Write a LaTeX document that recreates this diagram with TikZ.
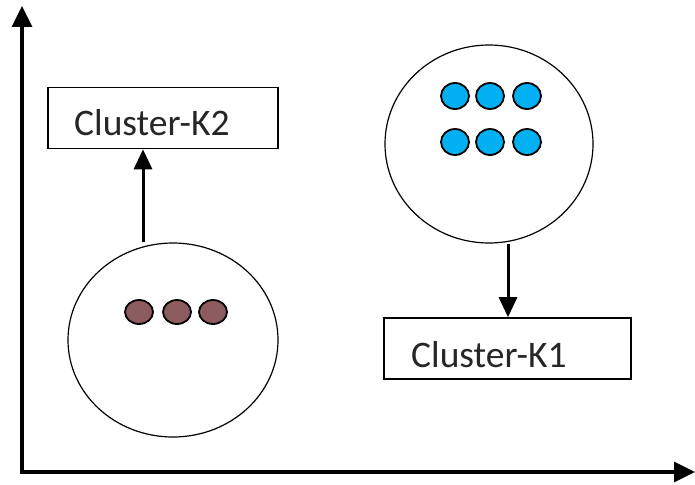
\documentclass[tikz,border=0pt]{standalone}
\usepackage{fontspec}
\setmainfont{Carlito}
\usetikzlibrary{arrows.meta,shapes.geometric}
\definecolor{dotblue}{HTML}{00B0F0}
\definecolor{dotbrown}{HTML}{8C5C5E}
\tikzset{
  axis/.style={line width=3.4pt,-{Triangle[length=21pt,width=20pt]}},
  conn/.style={line width=3pt,-{Triangle[length=20pt,width=18pt]}},
  labelbox/.style={draw,line width=1.6pt,inner sep=0pt},
  blob/.style={draw,ellipse,line width=1.2pt,inner sep=0pt},
  bluedot/.style={draw,ellipse,fill=dotblue,line width=1.8pt,minimum width=28pt,minimum height=26pt,inner sep=0pt},
  browndot/.style={draw,ellipse,fill=dotbrown,line width=1.8pt,minimum width=28pt,minimum height=24pt,inner sep=0pt},
  lbl/.style={anchor=base west,inner sep=0pt,font=\fontsize{37.5}{40}\selectfont,text=black!85}
}
\begin{document}
\begin{tikzpicture}[x=1pt,y=-1pt]
\useasboundingbox (0,0) rectangle (695,484);
% axes
\coordinate (ytip) at (22,6);
\coordinate (xtip) at (695,472);
\coordinate (ybase) at (22,473.7);
\coordinate (xbase) at (20.3,472);
\draw[axis] (ybase) -- (ytip);
\draw[axis] (xbase) -- (xtip);
% circles
\node[blob,minimum width=210pt,minimum height=194pt] (c2) at (173,340) {};
\node[blob,minimum width=208pt,minimum height=198pt] (c1) at (489,144) {};
% dots
\node[browndot] (b1) at (139,312) {};
\node[browndot] (b2) at (177,312) {};
\node[browndot] (b3) at (213,312) {};
\node[bluedot] (u1) at (455,96) {};
\node[bluedot] (u2) at (490,96) {};
\node[bluedot] (u3) at (527,96) {};
\node[bluedot] (u4) at (455,142) {};
\node[bluedot] (u5) at (490,142) {};
\node[bluedot] (u6) at (527,142) {};
% boxes
\node[labelbox,minimum width=230pt,minimum height=61pt] (k2) at (163,118) {};
\node[labelbox,minimum width=247pt,minimum height=61pt] (k1) at (507.5,348.5) {};
\node[lbl] (k2t) at (74,135) {Cluster-K2};
\node[lbl] (k1t) at (411,367) {Cluster-K1};
% connectors
\draw[conn] (c2.north -| 143,0) -- (k2.south -| 143,0);
\draw[conn] (c1.south -| 508,0) -- (k1.north -| 508,0);
\end{tikzpicture}
\end{document}
